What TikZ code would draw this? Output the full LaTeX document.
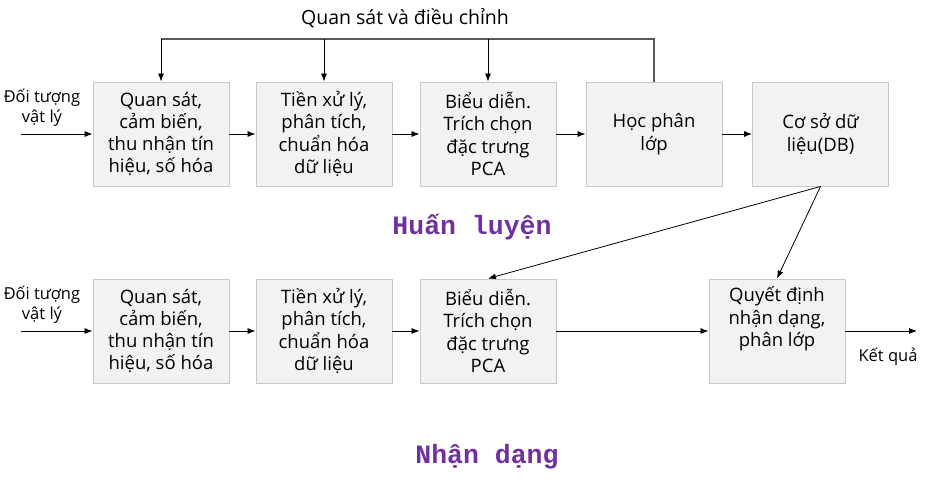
\documentclass[tikz,border=0pt]{standalone}
\usepackage{fontspec}
\setmainfont{Open Sans}
\newfontfamily\titlefont{Liberation Mono}
\usetikzlibrary{arrows.meta}
\definecolor{boxfill}{HTML}{F2F2F2}
\definecolor{boxline}{HTML}{C8C8C8}
\definecolor{ttl}{HTML}{7030A0}
\tikzset{
  stagebox/.style={draw=boxline, line width=0.9pt, fill=boxfill, minimum width=136pt, minimum height=104pt, inner sep=1pt, align=center, font=\fontsize{18.5}{22.3}\selectfont},
  conn/.style={-{Latex[length=8pt,width=6pt]}, line width=0.8pt},
  lbl/.style={align=center, font=\fontsize{16.5}{19.5}\selectfont},
  phase/.style={text=ttl, font=\titlefont\bfseries\fontsize{26.5}{28}\selectfont}
}
\begin{document}
\begin{tikzpicture}[x=1pt,y=-1pt]
\useasboundingbox (0,0) rectangle (936,484);
% top row
\node[stagebox] (h1) at (161,134) {Quan sát,\\ cảm biến,\\ thu nhận tín\\ hiệu, số hóa};
\node[stagebox] (h2) at (324,134) {Tiền xử lý,\\ phân tích,\\ chuẩn hóa\\ dữ liệu};
\node[stagebox] (h3) at (488,134) {Biểu diễn.\\ Trích chọn\\ đặc trưng\\ PCA};
\node[stagebox] (h4) at (654,134) {Học phân\\ lớp};
\node[stagebox] (h5) at (820.5,134) {Cơ sở dữ\\ liệu(DB)};
% bottom row
\node[stagebox] (b1) at (161,331) {Quan sát,\\ cảm biến,\\ thu nhận tín\\ hiệu, số hóa};
\node[stagebox] (b2) at (324,331) {Tiền xử lý,\\ phân tích,\\ chuẩn hóa\\ dữ liệu};
\node[stagebox] (b3) at (488,331) {Biểu diễn.\\ Trích chọn\\ đặc trưng\\ PCA};
\node[stagebox] (b4) at (777,331) {Quyết định\\ nhận dạng,\\ phân lớp\\ \strut};
% labels
\node[lbl] (in1) at (42,108) {Đối tượng\\ vật lý};
\node[lbl] (in2) at (42,305) {Đối tượng\\ vật lý};
\coordinate (s1) at (21,134);
\coordinate (s2) at (21,331);
\coordinate (e2) at (917,331);
\node[lbl] (out) at (888,357) {Kết quả};
\node[font=\fontsize{19.5}{22}\selectfont] (fbl) at (405,18) {Quan sát và điều chỉnh};
\node[phase] (t1) at (472,227) {Huấn luyện};
\node[phase] (t2) at (487,457) {Nhận dạng};
% feedback
\coordinate (fb) at (0,39);
\draw[line width=1.3pt, black!65] (h4.north) -- (h4.north |- fb) -- (h1.north |- fb);
\draw[conn] (h1.north |- fb) -- (h1.north);
\draw[conn] (h2.north |- fb) -- (h2.north);
\draw[conn] (h3.north |- fb) -- (h3.north);
% top arrows
\draw[conn] (s1) -- (h1.west);
\draw[conn] (h1) -- (h2);
\draw[conn] (h2) -- (h3);
\draw[conn] (h3) -- (h4);
\draw[conn] (h4) -- (h5);
% bottom arrows
\draw[conn] (s2) -- (b1.west);
\draw[conn] (b1) -- (b2);
\draw[conn] (b2) -- (b3);
\draw[conn] (b3) -- (b4);
\draw[conn] (b4.east) -- (e2);
% DB arrows
\draw[conn] (h5.south) -- (b3.north);
\draw[conn] (h5.south) -- (b4.north);
\end{tikzpicture}
\end{document}
